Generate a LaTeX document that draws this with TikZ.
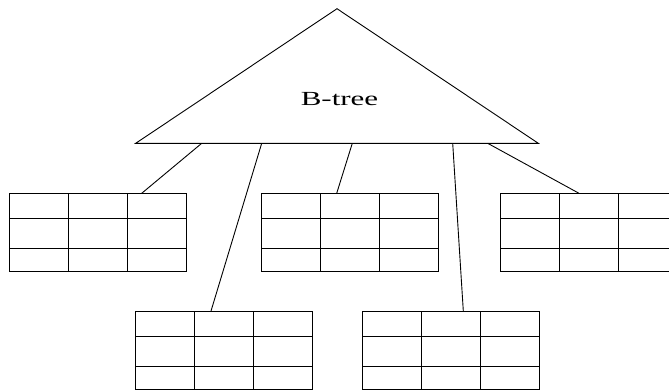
\documentclass[tikz,border=0pt]{standalone}
\usepackage{fontspec}
\setmainfont{Liberation Serif}
\tikzset{
  edgeline/.style={line width=0.9pt, black},
  leaf/.style={draw, line width=1pt, minimum width=177pt, minimum height=78.4pt,
    inner sep=0pt, outer sep=0pt, anchor=north west},
  gridline/.style={line width=1pt, black},
}
\newcommand\leaftab[3]{%
  \node[leaf] (#1) at (#2,#3) {};
  \draw[gridline] ([xshift=59pt]#1.north west) -- ([xshift=59pt]#1.south west);
  \draw[gridline] ([xshift=118pt]#1.north west) -- ([xshift=118pt]#1.south west);
  \draw[gridline] ([yshift=-25.5pt]#1.north west) -- ([yshift=-25.5pt]#1.north east);
  \draw[gridline] ([yshift=-55pt]#1.north west) -- ([yshift=-55pt]#1.north east);
}
\begin{document}
\begin{tikzpicture}[x=1pt,y=-1pt]
\useasboundingbox (0,0) rectangle (669,389);
\clip (0,0) rectangle (669,389);
% B-tree triangle
\coordinate (apex) at (337,8.7);
\coordinate (bl) at (135.7,143.3);
\coordinate (br) at (538.3,143.3);
\draw[edgeline, line join=miter] (bl) -- (apex) -- (br) -- cycle;
\node[font=\fontsize{20}{24}\selectfont, anchor=base, inner sep=0pt] (lbl) at (339.5,105) {\scalebox{1.55}[1]{B-tree}};
% base attachment points
\coordinate (b1) at (201.7,143.3);
\coordinate (b2) at (261.7,143.3);
\coordinate (b3) at (352.3,143.3);
\coordinate (b4) at (452.7,143.3);
\coordinate (b5) at (487.7,143.3);
% leaf tables
\leaftab{t1}{9.3}{193.3}
\leaftab{t2}{261.7}{193.3}
\leaftab{t3}{500.7}{193.3}
\leaftab{t4}{135.7}{311}
\leaftab{t5}{362.7}{311}
% connectors
\draw[edgeline] (b1) -- ([xshift=132.4pt]t1.north west);
\draw[edgeline] (b2) -- ([xshift=75.3pt]t4.north west);
\draw[edgeline] (b3) -- ([xshift=75pt]t2.north west);
\draw[edgeline] (b4) -- ([xshift=100.6pt]t5.north west);
\draw[edgeline] (b5) -- ([xshift=78.3pt]t3.north west);
\end{tikzpicture}
\end{document}
